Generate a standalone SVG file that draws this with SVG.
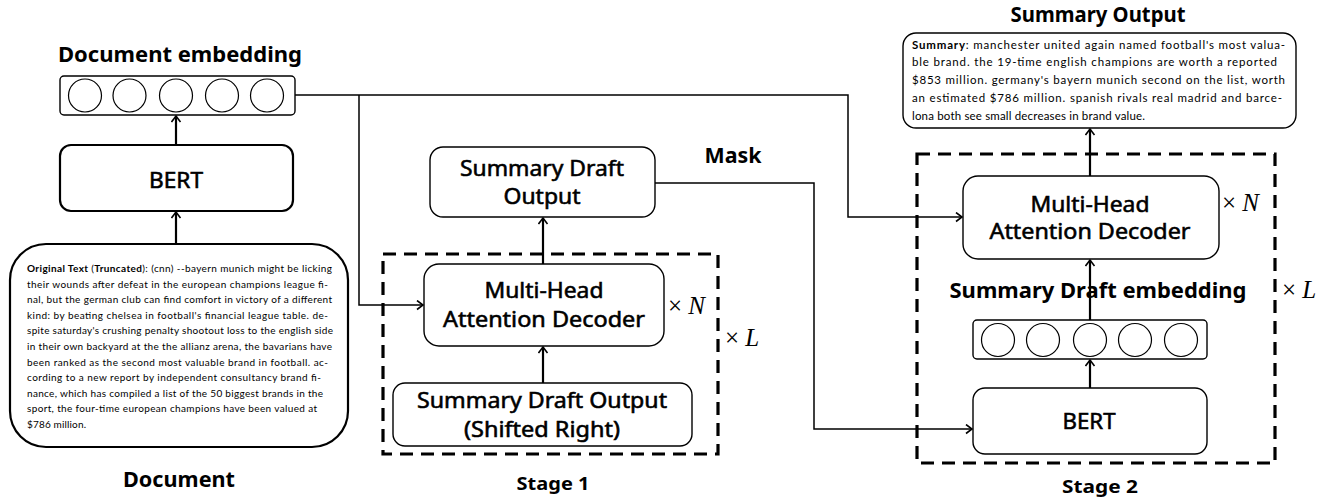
<svg xmlns="http://www.w3.org/2000/svg" width="1344" height="502" viewBox="0 0 1344 502">
<defs>
<style>
.box{fill:#fff;stroke:#000;stroke-width:1.4}
.boxb{fill:#fff;stroke:#000;stroke-width:2.2}
.circ{fill:#fff;stroke:#000;stroke-width:1.2}
.dash{fill:none;stroke:#000;stroke-width:3.2;stroke-dasharray:13 8}
.lbl{font-family:"Noto Sans","DejaVu Sans",sans-serif;font-size:21px;fill:#000;stroke:#000;stroke-width:0.55;text-anchor:middle}
.ttl{font-family:"Noto Sans","DejaVu Sans",sans-serif;font-size:21px;font-weight:bold;fill:#000;text-anchor:middle}
.stg{font-family:"Noto Sans","DejaVu Sans",sans-serif;font-size:17px;font-weight:bold;fill:#000;text-anchor:middle}
.math{font-family:"Liberation Serif","DejaVu Serif",serif;font-size:25px;fill:#000}
.small{font-family:Lato,"Liberation Sans",sans-serif;font-size:10px;fill:#000}
.sum{font-family:Lato,"Liberation Sans",sans-serif;font-size:11.5px;fill:#000}
.con{fill:none;stroke:#000;stroke-width:1.5}
.conb{fill:none;stroke:#000;stroke-width:2.2}
</style>
<marker id="arr" markerUnits="userSpaceOnUse" markerWidth="12" markerHeight="12" refX="7" refY="5" orient="auto">
<path d="M1,0.5 L7,5 L1,9.5" fill="none" stroke="#000" stroke-width="1.6"/>
</marker>
</defs>
<rect width="1344" height="502" fill="#fff"/>

<g id="document">
<rect class="boxb" x="10" y="244" width="338" height="203" rx="36"/>
<text class="small">
<tspan x="27" y="272" textLength="305" lengthAdjust="spacing"><tspan font-weight="bold">Original Text</tspan> (<tspan font-weight="bold">Truncated</tspan>): (cnn) --bayern munich might be licking</tspan>
<tspan x="27" y="287.6" textLength="301" lengthAdjust="spacing">their wounds after defeat in the european champions league fi-</tspan>
<tspan x="27" y="303.2" textLength="305" lengthAdjust="spacing">nal, but the german club can find comfort in victory of a different</tspan>
<tspan x="27" y="318.8" textLength="301" lengthAdjust="spacing">kind: by beating chelsea in football's financial league table. de-</tspan>
<tspan x="27" y="334.4" textLength="306" lengthAdjust="spacing">spite saturday's crushing penalty shootout loss to the english side</tspan>
<tspan x="27" y="350" textLength="305" lengthAdjust="spacing">in their own backyard at the the allianz arena, the bavarians have</tspan>
<tspan x="27" y="365.6" textLength="301" lengthAdjust="spacing">been ranked as the second most valuable brand in football. ac-</tspan>
<tspan x="27" y="381.2" textLength="294" lengthAdjust="spacing">cording to a new report by independent consultancy brand fi-</tspan>
<tspan x="27" y="396.8" textLength="296" lengthAdjust="spacing">nance, which has compiled a list of the 50 biggest brands in the</tspan>
<tspan x="27" y="412.4" textLength="290" lengthAdjust="spacing">sport, the four-time european champions have been valued at</tspan>
<tspan x="27" y="428" textLength="59" lengthAdjust="spacing">$786 million.</tspan>
</text>
<text class="ttl" x="179" y="487" textLength="112" lengthAdjust="spacingAndGlyphs">Document</text>
</g>

<g id="bert1">
<rect class="boxb" x="60" y="145" width="233" height="66" rx="11"/>
<text class="lbl" x="176" y="188" textLength="54" lengthAdjust="spacingAndGlyphs">BERT</text>
</g>

<g id="doc-embedding">
<text class="ttl" x="180" y="62" textLength="244" lengthAdjust="spacingAndGlyphs">Document embedding</text>
<rect class="box" x="60" y="76" width="235" height="39" rx="4"/>
<circle class="circ" cx="85" cy="95.5" r="16.5"/>
<circle class="circ" cx="129.5" cy="95.5" r="16.5"/>
<circle class="circ" cx="176" cy="95.5" r="16.5"/>
<circle class="circ" cx="222" cy="95.5" r="16.5"/>
<circle class="circ" cx="267" cy="95.5" r="16.5"/>
</g>

<g id="stage1">
<rect class="dash" x="383" y="254" width="335" height="200"/>
<text class="stg" x="553" y="490" textLength="73" lengthAdjust="spacingAndGlyphs">Stage 1</text>
<text class="math" x="725" y="346">× <tspan font-style="italic">L</tspan></text>
</g>

<g id="draft-output">
<rect class="box" x="430" y="147" width="225" height="70" rx="13"/>
<text class="lbl" x="542" y="176" textLength="164" lengthAdjust="spacingAndGlyphs">Summary Draft</text>
<text class="lbl" x="542" y="204" textLength="77" lengthAdjust="spacingAndGlyphs">Output</text>
</g>

<g id="decoder1">
<rect class="box" x="424" y="264" width="240" height="82" rx="15"/>
<text class="lbl" x="544" y="298" textLength="119" lengthAdjust="spacingAndGlyphs">Multi-Head</text>
<text class="lbl" x="544" y="327" textLength="202" lengthAdjust="spacingAndGlyphs">Attention Decoder</text>
<text class="math" x="668" y="314">× <tspan font-style="italic">N</tspan></text>
</g>

<g id="shifted">
<rect class="box" x="393" y="383" width="299" height="63" rx="12"/>
<text class="lbl" x="542" y="408" textLength="250" lengthAdjust="spacingAndGlyphs">Summary Draft Output</text>
<text class="lbl" x="542" y="437" textLength="156" lengthAdjust="spacingAndGlyphs">(Shifted Right)</text>
</g>

<g id="mask">
<text class="ttl" x="733" y="163" textLength="57" lengthAdjust="spacingAndGlyphs">Mask</text>
</g>

<g id="summary-output">
<text class="ttl" x="1098" y="22" textLength="175" lengthAdjust="spacingAndGlyphs">Summary Output</text>
<rect class="box" x="903" y="33" width="393" height="95" rx="13"/>
<text class="sum">
<tspan x="912" y="49" textLength="373" lengthAdjust="spacing"><tspan font-weight="bold">Summary</tspan>: manchester united again named football's most valua-</tspan>
<tspan x="912" y="66" textLength="365" lengthAdjust="spacing">ble brand. the 19-time english champions are worth a reported</tspan>
<tspan x="912" y="84" textLength="373" lengthAdjust="spacing">$853 million. germany's bayern munich second on the list, worth</tspan>
<tspan x="912" y="102" textLength="370" lengthAdjust="spacing">an estimated $786 million. spanish rivals real madrid and barce-</tspan>
<tspan x="912" y="120" textLength="233" lengthAdjust="spacing">lona both see small decreases in brand value.</tspan>
</text>
</g>

<g id="stage2">
<rect class="dash" x="917" y="154" width="358" height="309"/>
<text class="stg" x="1100" y="493" textLength="76" lengthAdjust="spacingAndGlyphs">Stage 2</text>
<text class="math" x="1282" y="298">× <tspan font-style="italic">L</tspan></text>
</g>

<g id="decoder2">
<rect class="box" x="963" y="176" width="256" height="83" rx="15"/>
<text class="lbl" x="1090" y="212" textLength="119" lengthAdjust="spacingAndGlyphs">Multi-Head</text>
<text class="lbl" x="1090" y="239" textLength="201" lengthAdjust="spacingAndGlyphs">Attention Decoder</text>
<text class="math" x="1222" y="211">× <tspan font-style="italic">N</tspan></text>
</g>

<g id="draft-embedding">
<text class="ttl" x="1098" y="298" textLength="297" lengthAdjust="spacingAndGlyphs">Summary Draft embedding</text>
<rect class="box" x="973" y="320" width="234" height="39" rx="4"/>
<circle class="circ" cx="998" cy="340" r="16.5"/>
<circle class="circ" cx="1043" cy="340" r="16.5"/>
<circle class="circ" cx="1090" cy="340" r="16.5"/>
<circle class="circ" cx="1135" cy="340" r="16.5"/>
<circle class="circ" cx="1181" cy="340" r="16.5"/>
</g>

<g id="bert2">
<rect class="box" x="973" y="388" width="234" height="66" rx="12"/>
<text class="lbl" x="1089" y="429" textLength="53" lengthAdjust="spacingAndGlyphs">BERT</text>
</g>

<g id="connectors">
<path class="con" d="M295,95 H848 V217 H962" marker-end="url(#arr)"/>
<path class="con" d="M359,95 V305 H423" marker-end="url(#arr)"/>
<path class="con" d="M655,183 H814 V429 H972" marker-end="url(#arr)"/>
<path class="conb" d="M176,244 V212" marker-end="url(#arr)"/>
<path class="conb" d="M176,145 V116" marker-end="url(#arr)"/>
<path class="conb" d="M543,383 V347" marker-end="url(#arr)"/>
<path class="conb" d="M543,264 V218" marker-end="url(#arr)"/>
<path class="conb" d="M1090,388 V360" marker-end="url(#arr)"/>
<path class="conb" d="M1090,320 V260" marker-end="url(#arr)"/>
<path class="conb" d="M1090,176 V129" marker-end="url(#arr)"/>
</g>
</svg>
